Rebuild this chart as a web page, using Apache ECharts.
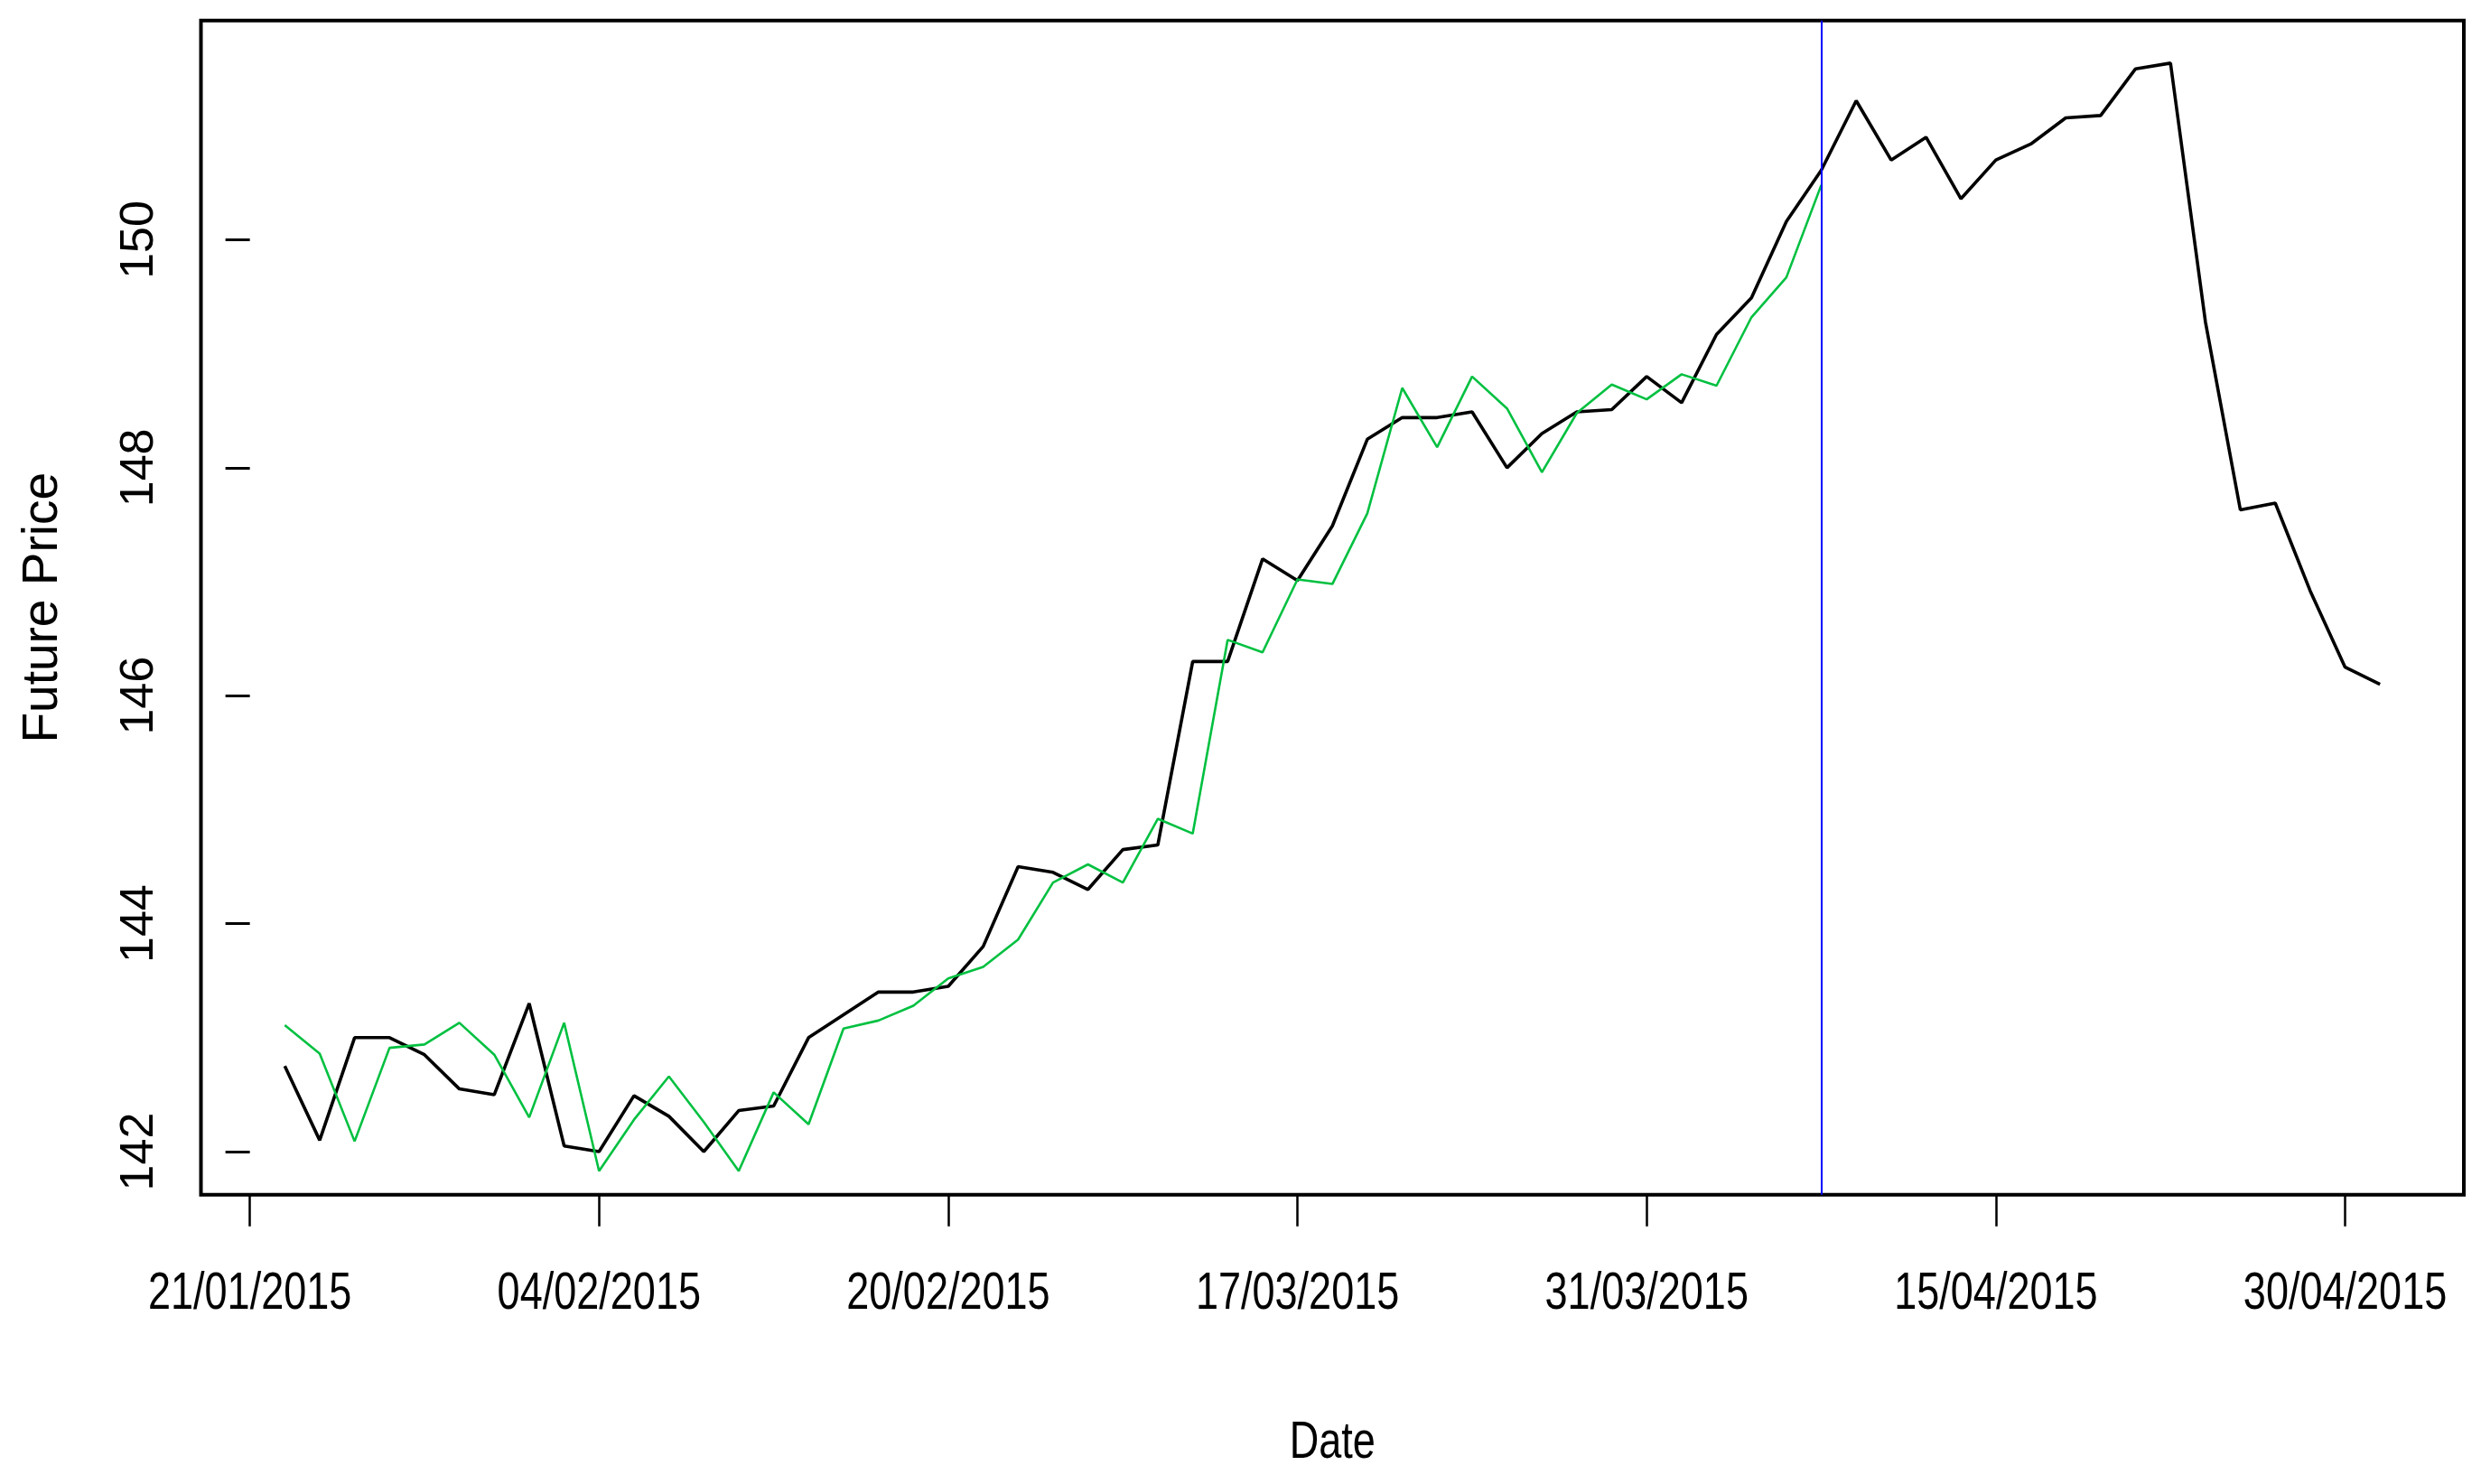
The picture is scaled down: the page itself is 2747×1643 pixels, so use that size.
<!DOCTYPE html>
<html>
<head>
<meta charset="utf-8">
<title>Future Price</title>
<script src="https://cdn.jsdelivr.net/npm/echarts@6/dist/echarts.min.js"></script>
<style>
  html, body { margin: 0; padding: 0; background: #fff; }
  #chart { width: 2747px; height: 1643px; }
</style>
</head>
<body>
<div id="chart"></div>
<script>
// observed futures price, one value per trading day (observation 1..61)
const actualPrice = [
  142.75, 142.10, 143.00, 143.00, 142.85, 142.55, 142.50, 143.30, 142.05, 142.00,
  142.49, 142.31, 142.00, 142.36, 142.40, 143.00, 143.20, 143.40, 143.40, 143.45,
  143.80, 144.50, 144.45, 144.30, 144.65, 144.69, 146.30, 146.30, 147.20, 147.01,
  147.49, 148.25, 148.44, 148.44, 148.49, 148.00, 148.30, 148.49, 148.51, 148.80,
  148.57, 149.17, 149.49, 150.16, 150.61, 151.22, 150.70, 150.90, 150.36, 150.70,
  150.84, 151.07, 151.09, 151.50, 151.55, 149.28, 147.63, 147.69, 146.92, 146.25,
  146.10
];

// fitted values, observations 1..45
const fittedPrice = [
  143.11, 142.86, 142.09, 142.91, 142.94, 143.13, 142.85, 142.30, 143.13, 141.83,
  142.28, 142.66, 142.26, 141.83, 142.52, 142.24, 143.08, 143.15, 143.28, 143.52,
  143.62, 143.86, 144.36, 144.52, 144.36, 144.92, 144.79, 146.49, 146.38, 147.02,
  146.98, 147.60, 148.70, 148.18, 148.80, 148.52, 147.96, 148.48, 148.73, 148.60,
  148.82, 148.72, 149.32, 149.67, 150.48
];

// end of the fitted window (vertical marker)
const forecastStart = 45;

// x axis: observation number -> date label
const dateTicks = [0, 10, 20, 30, 40, 50, 60];
const dateLabels = ['21/01/2015', '04/02/2015', '20/02/2015', '17/03/2015', '31/03/2015', '15/04/2015', '30/04/2015'];

const priceTicks = [142, 144, 146, 148, 150];

const toPairs = arr => arr.map((v, i) => [i + 1, v]);

const plainFont = '"Liberation Sans", Arial, sans-serif';

const chart = echarts.init(document.getElementById('chart'));

const option = {
  animation: false,
  backgroundColor: '#fff',
  grid: {
    left: 222.5,
    right: 19,
    top: 22.8,
    bottom: 320.3,
    show: true,
    borderColor: '#000',
    borderWidth: 4,
    containLabel: false,
    outerBoundsMode: 'none'
  },
  xAxis: {
    type: 'value',
    min: -1.4,
    max: 63.4,
    axisLine: { show: false },
    splitLine: { show: false },
    axisTick: {
      show: true,
      customValues: dateTicks,
      length: 35,
      lineStyle: { color: '#000', width: 2.5 }
    },
    // date labels are drawn below as narrow graphic text (the original font is condensed)
    axisLabel: { show: false }
  },
  yAxis: {
    type: 'value',
    min: 141.622,
    max: 151.923,
    axisLine: { show: false },
    splitLine: { show: false },
    axisTick: {
      show: true,
      customValues: priceTicks,
      length: 27,
      lineStyle: { color: '#000', width: 3 }
    },
    axisLabel: {
      customValues: priceTicks,
      rotate: 90,
      margin: 42,
      color: '#000',
      fontFamily: plainFont,
      fontSize: 52
    },
    name: 'Future Price',
    nameLocation: 'middle',
    nameGap: 147,
    nameTextStyle: { color: '#000', fontFamily: plainFont, fontSize: 55 }
  },
  series: [
    {
      name: 'Actual',
      type: 'line',
      data: toPairs(actualPrice),
      symbol: 'none',
      lineStyle: { color: '#000', width: 3.6 },
      z: 2
    },
    {
      name: 'Fitted',
      type: 'line',
      data: toPairs(fittedPrice),
      symbol: 'none',
      lineStyle: { color: '#00c040', width: 2.6 },
      z: 3,
      markLine: {
        silent: true,
        symbol: ['none', 'none'],
        label: { show: false },
        lineStyle: { color: '#0000ff', width: 2, type: 'solid' },
        data: [{ xAxis: forecastStart }]
      }
    }
  ]
};

chart.setOption(option);

// condensed date labels and axis title, positioned through the x axis scale
const narrow = 0.79;
const labelY = 1433;
const titleY = 1598;
const graphics = dateTicks.map((v, k) => ({
  type: 'text',
  silent: true,
  x: chart.convertToPixel({ xAxisIndex: 0 }, v),
  y: labelY,
  scaleX: narrow,
  style: {
    text: dateLabels[k],
    fill: '#000',
    fontFamily: plainFont,
    fontSize: 57,
    align: 'center',
    verticalAlign: 'middle'
  }
}));
graphics.push({
  type: 'text',
  silent: true,
  x: chart.convertToPixel({ xAxisIndex: 0 }, 31),
  y: titleY,
  scaleX: narrow,
  style: {
    text: 'Date',
    fill: '#000',
    fontFamily: plainFont,
    fontSize: 57,
    align: 'center',
    verticalAlign: 'middle'
  }
});
chart.setOption({ graphic: graphics });
</script>
</body>
</html>
